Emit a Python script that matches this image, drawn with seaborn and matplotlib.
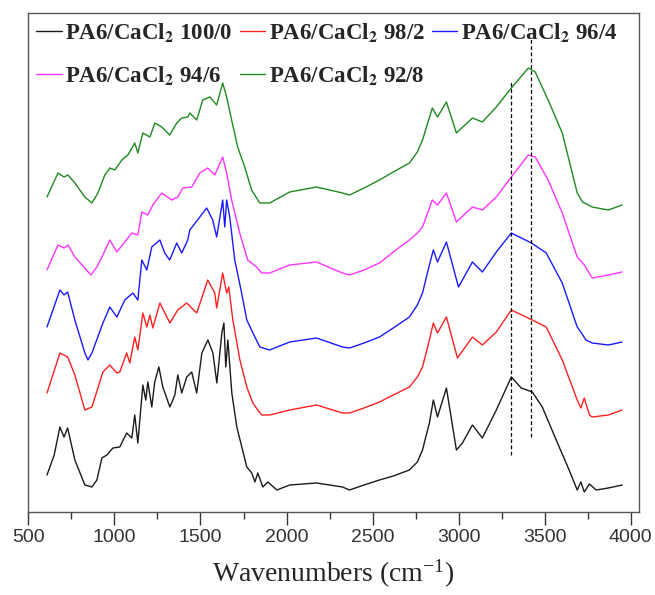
import pandas as pd
import matplotlib
matplotlib.use('Agg')
import matplotlib.pyplot as plt
import seaborn as sns
from matplotlib.ticker import MultipleLocator

# FTIR spectra, absorbance in arbitrary units (curves already stacked)
labels = ['PA6/CaCl$_\\mathbf{2}$ 100/0', 'PA6/CaCl$_\\mathbf{2}$ 98/2', 'PA6/CaCl$_\\mathbf{2}$ 96/4',
          'PA6/CaCl$_\\mathbf{2}$ 94/6', 'PA6/CaCl$_\\mathbf{2}$ 92/8']
colors = ['#1a1a1a', '#ff2020', '#1a1aff', '#ff33ff', '#1f8a1f']

wn_black = [608, 650, 683, 707, 728, 770, 828, 869, 898, 927, 956, 991, 1031, 1071, 1101, 1118, 1136, 1165,
            1182, 1194, 1217, 1234, 1258, 1281, 1322, 1351, 1368, 1391, 1420, 1449, 1478, 1508, 1543, 1572,
            1595, 1624, 1636, 1647, 1659, 1682, 1711, 1740, 1769, 1798, 1816, 1833, 1862, 1891, 1944, 2018,
            2174, 2325, 2366, 2450, 2540, 2620, 2714, 2760, 2790, 2830, 2853, 2877, 2929, 2987, 3022, 3080,
            3138, 3219, 3306, 3364, 3428, 3486, 3567, 3642, 3689, 3710, 3730, 3760, 3799, 3870, 3950]
abs_black = [45, 65, 93, 83, 92, 60, 35, 33, 40, 62, 65, 72, 73, 87, 82, 105, 77, 135, 120, 138, 113, 138, 153,
             133, 113, 125, 145, 127, 143, 148, 127, 167, 180, 167, 137, 187, 197, 153, 180, 127, 93, 73, 53, 47,
             38, 47, 33, 38, 30, 35, 37, 33, 30, 35, 40, 44, 50, 58, 70, 97, 120, 103, 132, 70, 77, 95, 82, 110,
             143, 132, 128, 113, 80, 50, 30, 38, 28, 36, 30, 32, 35]

wn_red = [608, 683, 728, 770, 828, 869, 933, 973, 1014, 1031, 1071, 1089, 1118, 1136, 1165, 1188, 1206, 1223,
          1264, 1322, 1368, 1420, 1478, 1542, 1583, 1594, 1629, 1652, 1664, 1688, 1729, 1769, 1804, 1833, 1856,
          1902, 2018, 2174, 2325, 2366, 2450, 2540, 2620, 2714, 2760, 2790, 2830, 2853, 2877, 2929, 2993, 3080,
          3138, 3219, 3306, 3428, 3509, 3602, 3689, 3710, 3730, 3760, 3776, 3870, 3950]
abs_red = [127, 167, 163, 145, 110, 113, 148, 155, 147, 148, 167, 157, 183, 170, 207, 193, 205, 192, 217, 197,
           210, 217, 207, 240, 227, 212, 247, 227, 233, 200, 160, 133, 117, 110, 105, 105, 110, 115, 107, 107,
           112, 118, 125, 133, 143, 153, 180, 197, 187, 203, 162, 183, 175, 188, 210, 200, 193, 160, 120, 112,
           122, 105, 103, 105, 110]

wn_blue = [608, 683, 707, 728, 770, 828, 846, 869, 933, 973, 1014, 1060, 1107, 1136, 1159, 1188, 1217, 1264,
           1292, 1321, 1362, 1391, 1426, 1438, 1496, 1536, 1571, 1594, 1629, 1641, 1652, 1670, 1699, 1739, 1769,
           1816, 1845, 1902, 2018, 2174, 2325, 2366, 2450, 2540, 2620, 2714, 2760, 2790, 2830, 2853, 2877, 2929,
           2999, 3080, 3138, 3219, 3306, 3423, 3509, 3602, 3689, 3710, 3740, 3776, 3870, 3950]
abs_blue = [193, 230, 225, 228, 200, 167, 160, 167, 197, 213, 203, 220, 227, 220, 260, 250, 273, 280, 267, 260,
            277, 267, 280, 290, 303, 312, 300, 283, 320, 293, 320, 303, 260, 227, 200, 183, 173, 170, 178, 182,
            173, 172, 177, 183, 192, 203, 215, 227, 255, 270, 258, 278, 233, 258, 248, 268, 287, 277, 267, 237,
            193, 188, 180, 177, 175, 178]

wn_mag = [608, 672, 707, 730, 770, 863, 898, 933, 973, 1014, 1060, 1101, 1136, 1159, 1194, 1223, 1275, 1333,
          1368, 1397, 1449, 1496, 1542, 1583, 1629, 1652, 1681, 1728, 1774, 1826, 1855, 1902, 2018, 2174, 2325,
          2366, 2450, 2540, 2620, 2714, 2760, 2790, 2847, 2877, 2929, 2987, 3080, 3138, 3219, 3306, 3405, 3445,
          3520, 3602, 3689, 3730, 3776, 3870, 3950]
abs_mag = [250, 275, 272, 275, 263, 245, 253, 265, 280, 268, 278, 287, 285, 308, 305, 315, 327, 320, 323, 332,
           333, 347, 352, 345, 363, 347, 320, 287, 260, 253, 247, 247, 255, 258, 247, 245, 250, 257, 268, 280,
           287, 293, 320, 315, 327, 298, 313, 310, 323, 343, 365, 363, 340, 307, 263, 255, 242, 245, 248]

wn_green = [608, 672, 707, 730, 770, 828, 869, 904, 944, 973, 1002, 1043, 1078, 1118, 1136, 1165, 1206, 1235,
            1275, 1321, 1362, 1391, 1426, 1438, 1478, 1513, 1554, 1594, 1629, 1652, 1681, 1716, 1757, 1797, 1844,
            1902, 2018, 2174, 2325, 2366, 2450, 2540, 2620, 2714, 2760, 2790, 2847, 2877, 2929, 2987, 3080, 3138,
            3219, 3306, 3405, 3445, 3520, 3602, 3689, 3720, 3776, 3870, 3950]
abs_green = [323, 347, 343, 345, 337, 323, 317, 327, 345, 352, 350, 360, 365, 377, 367, 387, 383, 397, 393, 385,
             397, 402, 403, 407, 400, 420, 423, 415, 437, 423, 400, 373, 353, 330, 317, 317, 328, 333, 327, 325,
             332, 340, 348, 357, 368, 380, 412, 403, 418, 387, 402, 398, 413, 432, 452, 448, 420, 387, 327, 318,
             313, 310, 315]

# dashed guide lines (N-H at ~3300 and ~3420 cm-1)
dash_x = [3305, 3420]
dash_low = [65, 83]
dash_high = [438, 482]

series = [(wn_black, abs_black), (wn_red, abs_red), (wn_blue, abs_blue), (wn_mag, abs_mag), (wn_green, abs_green)]
frames = []
for lab, (w, a) in zip(labels, series):
    frames.append(pd.DataFrame({'wn': w, 'abs': a, 'sample': lab}))
df = pd.concat(frames, ignore_index=True)

sns.set_style('ticks')
plt.rcParams['font.family'] = ['Liberation Sans', 'DejaVu Sans']
plt.rcParams['mathtext.fontset'] = 'stix'

fig = plt.figure(figsize=(6.55, 5.95), dpi=100)
ax = fig.add_axes([28.4 / 655, (595 - 512) / 595, (639 - 28.4) / 655, (512 - 12.7) / 595])

sns.lineplot(data=df, x='wn', y='abs', hue='sample', palette=colors, sort=False,
             estimator=None, lw=1.0, ax=ax)

ax.vlines(dash_x, dash_low, dash_high, colors='black', linestyles=(0, (3, 2)), lw=0.9)

ax.set_xlim(500, 4048)
ax.set_ylim(8, 507.3)
ax.xaxis.set_major_locator(MultipleLocator(500))
ax.xaxis.set_minor_locator(MultipleLocator(250))
ax.tick_params(axis='x', which='major', length=9, width=1, labelsize=14, direction='out', colors='#333333')
ax.tick_params(axis='x', which='minor', length=5, width=1, direction='out', colors='#333333')
ax.set_yticks([])
ax.set_ylabel('')
ax.set_xlabel('Wavenumbers (cm$^{\\mathregular{-1}}$)', fontfamily='Liberation Serif', fontsize=20, labelpad=8)
for s in ax.spines.values():
    s.set_color('#555555')
    s.set_linewidth(1)

handles, labs = ax.get_legend_handles_labels()
order = [0, 3, 1, 4, 2]
ax.legend([handles[i] for i in order], [labs[i] for i in order], ncol=3, frameon=False,
          loc='upper left', bbox_to_anchor=(0.013, 0.984), borderaxespad=0, borderpad=0,
          handlelength=1.1, handletextpad=0.17, columnspacing=0.3, labelspacing=0.9,
          prop={'family': 'Liberation Serif', 'weight': 'bold', 'size': 16.5})

fig.savefig('out.png', dpi=100)
